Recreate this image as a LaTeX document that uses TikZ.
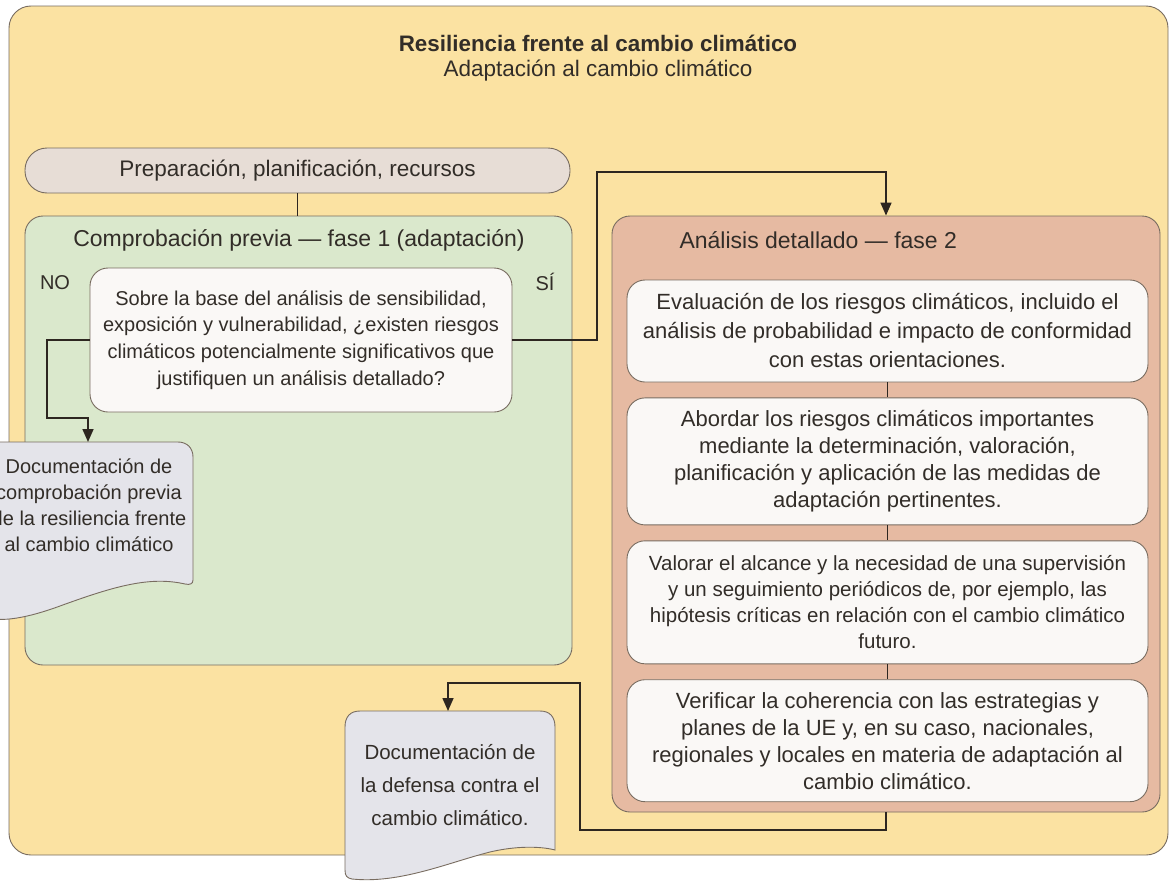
\documentclass[tikz,border=0pt]{standalone}
\usepackage{fontspec}
\setmainfont{Liberation Sans}
\usetikzlibrary{positioning,arrows.meta}

\definecolor{outerfill}{RGB}{251,226,162}
\definecolor{prepfill}{RGB}{231,221,214}
\definecolor{greenfill}{RGB}{218,232,204}
\definecolor{salmonfill}{RGB}{230,186,162}
\definecolor{boxwhite}{RGB}{250,248,246}
\definecolor{docfill}{RGB}{228,228,234}
\definecolor{linegray}{RGB}{120,108,96}
\definecolor{linedark}{RGB}{45,38,32}
\definecolor{textgray}{RGB}{50,45,40}

\tikzset{
  panel/.style={draw=linegray, line width=0.9pt, rounded corners=18pt, inner sep=0pt, text=textgray},
  stepbox/.style={panel, fill=boxwhite, minimum width=521pt, align=center,
    font=\fontsize{22}{27}\selectfont},
  label/.style={text=textgray, font=\fontsize{22.5}{26}\selectfont},
  docbox/.style={draw=linegray, line width=0.9pt, fill=docfill},
  doctext/.style={text=textgray, align=center, font=\fontsize{20}{26}\selectfont},
  flow/.style={draw=linedark, line width=1.6pt, -{Triangle[width=11pt,length=13pt]}},
  link/.style={draw=linedark, line width=1.6pt},
}

\begin{document}
\begin{tikzpicture}[x=1pt,y=-1pt]
  \useasboundingbox (0,0) rectangle (1172,886);

  % frame and headings
  \node[panel, fill=outerfill, rounded corners=22pt, minimum width=1159pt, minimum height=849pt] (outer) at (588.5,430.5) {};
  \node[label, font=\bfseries\fontsize{22.4}{26}\selectfont] (title) at (598,43) {Resiliencia frente al cambio climático};
  \node[label, below = 2pt of title] (subtitle) {Adaptación al cambio climático};

  % phase 1
  \node[panel, fill=prepfill, rounded corners=22pt, minimum width=545pt, minimum height=45pt,
    font=\fontsize{22.5}{26}\selectfont] (prep) at (297.5,170.5) {Preparación, planificación, recursos};
  \node[panel, fill=greenfill, minimum width=547pt, minimum height=449pt] (phase1) at (298.5,440.5) {};
  \node[label, font=\fontsize{23}{26}\selectfont] (phase1-title) at (299,240) {Comprobación previa — fase 1 (adaptación)};
  \node[stepbox, minimum width=422pt, minimum height=144pt, font=\fontsize{20}{26.7}\selectfont] (question) at (301,340)
    {Sobre la base del análisis de sensibilidad,\\ exposición y vulnerabilidad, ¿existen riesgos\\ climáticos potencialmente significativos que\\ justifiquen un análisis detallado?};
  \node[label, font=\fontsize{20}{24}\selectfont] (no) at (55,283) {NO};
  \node[label, font=\fontsize{20}{24}\selectfont] (si) at (545,282) {SÍ};

  % phase 2
  \node[panel, fill=salmonfill, minimum width=548pt, minimum height=596pt] (phase2) at (886,514) {};
  \node[label, font=\fontsize{23}{26}\selectfont, anchor=west] (phase2-title) at (676,240) {Análisis detallado — fase 2};
  \node[stepbox, minimum height=102pt, font=\fontsize{22}{29}\selectfont] (assess) at (887.5,331)
    {Evaluación de los riesgos climáticos, incluido el\\ análisis de probabilidad e impacto de conformidad\\ con estas orientaciones.};
  \node[stepbox, minimum height=127pt, below = 15pt of assess] (address)
    {Abordar los riesgos climáticos importantes\\ mediante la determinación, valoración,\\ planificación y aplicación de las medidas de\\ adaptación pertinentes.};
  \node[stepbox, minimum height=123pt, below = 15pt of address, font=\fontsize{20.5}{26}\selectfont] (monitor)
    {Valorar el alcance y la necesidad de una supervisión\\ y un seguimiento periódicos de, por ejemplo, las\\ hipótesis críticas en relación con el cambio climático\\ futuro.};
  \node[stepbox, minimum height=122pt, below = 15pt of monitor] (verify)
    {Verificar la coherencia con las estrategias y\\ planes de la UE y, en su caso, nacionales,\\ regionales y locales en materia de adaptación al\\ cambio climático.};

  % documents
  \draw[docbox] (-20,442) -- (178,442) .. controls (187,442) and (193,448) .. (193,457) -- (193,580)
    .. controls (193,584) and (190,585) .. (185,584)
    .. controls (150,576) and (115,586) .. (60,606) .. controls (30,617) and (0,624) .. (-20,616) -- cycle;
  \coordinate (doc1-top) at (88,442);
  \node[doctext] (doc1) at (89,505) {Documentación de\\ comprobación previa\\ de la resiliencia frente\\ al cambio climático};

  \draw[docbox] (345,727) .. controls (345,717) and (350,711) .. (360,711) -- (540,711)
    .. controls (550,711) and (555,717) .. (555,727) -- (555,850)
    .. controls (540,846) and (515,846) .. (490,852) .. controls (450,862) and (400,884) .. (352,879)
    .. controls (347,878) and (345,876) .. (345,870) -- cycle;
  \coordinate (doc2-top) at (448,711);
  \node[doctext, font=\fontsize{20.5}{33}\selectfont] (doc2) at (450,785) {Documentación de\\ la defensa contra el\\ cambio climático.};

  % connectors
  \draw[link] (prep.south) -- (prep.south |- phase1.north);
  \draw[link] (assess) -- (address);
  \draw[link] (address) -- (monitor);
  \draw[link] (monitor) -- (verify);
  \draw[flow] (question.west) -| (47,418) -| (doc1-top);
  \draw[flow] (question.east) -| (597,172) -| (phase2.north);
  \draw[flow] (phase2.south) |- (580,830) -- (580,683) -| (doc2-top);

\end{tikzpicture}
\end{document}
